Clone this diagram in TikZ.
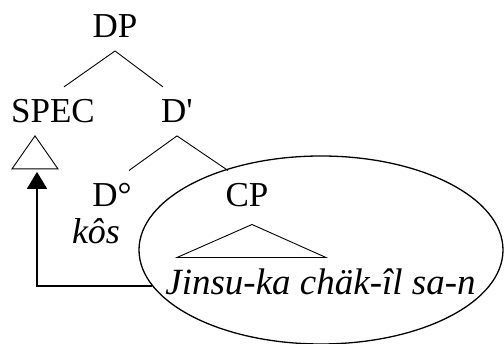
\documentclass[tikz,border=0pt]{standalone}
\usepackage{fontspec}
\setmainfont{Liberation Serif}
\usetikzlibrary{shapes.geometric,arrows.meta}

\begin{document}
\begin{tikzpicture}[x=1pt,y=1pt,line width=0.9pt,
  cat/.style={font=\fontsize{35}{40}\selectfont,inner sep=0pt,
    text height=23pt,text depth=0pt,outer ysep=13pt},
  word/.style={font=\fontsize{#1}{40}\selectfont\itshape,inner sep=0pt,anchor=base},
  word/.default=37]
\useasboundingbox (0,0) rectangle (504,344);
% tree nodes
\node[cat] (DP) at (115,317.5) {DP};
\node[cat] (SPEC) at (53,232.6) {SPEC};
\node[cat] (D1) at (177,232.6) {D\textquotesingle};
\node[cat] (D0) at (112,149) {D°};
\node[cat] (CP) at (247,149) {CP};
\node[word=36] (kos) at (96,100) {kôs};
\node[word] (str) at (320.5,49) {Jinsu-ka chäk-îl sa-n};
\node[draw,ellipse,line width=1.3pt,inner sep=0pt,
  minimum width=364pt,minimum height=188pt] (ell) at (321,94) {};
% branches
\draw (DP.south) -- ([xshift=11pt]SPEC.north);
\draw (DP.south) -- ([xshift=-14pt]D1.north);
\draw (D1.south) -- ([xshift=17pt]D0.north);
\draw (D1.south) -- ([xshift=-19pt]CP.north);
% roofs
\draw ([xshift=-18pt]SPEC.south) -- ++(-23,-33) -- ++(46,0) -- cycle;
\draw ([xshift=5pt,yshift=-5pt]CP.south) -- ++(-75,-33) -- ++(149,0) -- cycle;
% movement
\coordinate (tip) at ([xshift=-16pt,yshift=-36pt]SPEC.south);
\draw[line width=1.8pt,-{Triangle[width=20pt,length=17pt]}] (ell.192.5) -| (tip);
\end{tikzpicture}
\end{document}
